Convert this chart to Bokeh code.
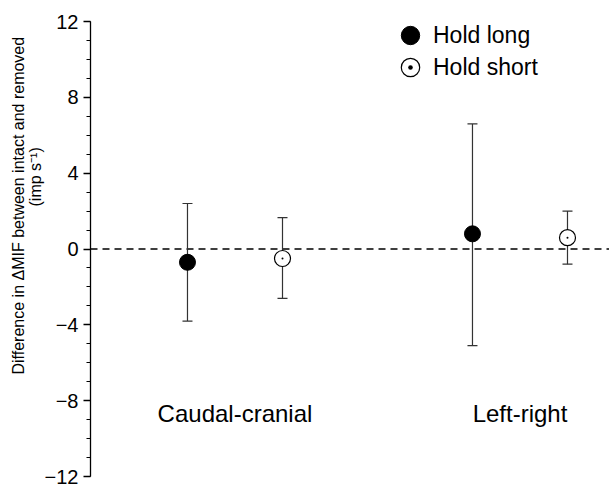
from bokeh.plotting import figure
from bokeh.models import (ColumnDataSource, Whisker, TeeHead, Span, Legend,
                          LegendItem, FixedTicker, Range1d, Title)
from bokeh.core.properties import value
from bokeh.embed import file_html
from bokeh.resources import INLINE

# ---- data ----
categories = ["Caudal-cranial", "Left-right"]
category_pos = [1, 2]
hold_long_mean = [-0.7, 0.8]
hold_long_upper = [2.4, 6.6]
hold_long_lower = [-3.8, -5.1]
hold_short_mean = [-0.5, 0.6]
hold_short_upper = [1.65, 2.0]
hold_short_lower = [-2.6, -0.8]
y_ticks = [-12, -8, -4, 0, 4, 8, 12]
y_minor = list(range(-12, 13))
category_label_y = -8.7

FONT = "Liberation Sans"
OFFSET = 0.1667

long_src = ColumnDataSource(dict(
    x=[c - OFFSET for c in category_pos], y=hold_long_mean,
    upper=hold_long_upper, lower=hold_long_lower))
short_src = ColumnDataSource(dict(
    x=[c + OFFSET for c in category_pos], y=hold_short_mean,
    upper=hold_short_upper, lower=hold_short_lower))
cat_src = ColumnDataSource(dict(x=category_pos, y=[category_label_y] * len(categories),
                                text=categories))

p = figure(width=609, height=485, output_backend="svg", toolbar_location=None,
           x_range=Range1d(0.4930, 2.3141), y_range=Range1d(-12, 12),
           x_axis_location=None,
           min_border_left=90, min_border_right=0, min_border_top=21, min_border_bottom=9)
p.outline_line_color = None
p.grid.visible = False
p.background_fill_color = "white"

ax = p.yaxis[0]
ax.ticker = FixedTicker(ticks=y_ticks, minor_ticks=y_minor)
ax.major_label_overrides = {t: ("\u2212" + str(-t) if t < 0 else str(t)) for t in y_ticks}
ax.major_tick_out = 7
ax.major_tick_in = 0
ax.minor_tick_out = 4
ax.minor_tick_in = 0
ax.axis_line_width = 1.3
ax.major_tick_line_width = 1.3
ax.minor_tick_line_width = 1.1
ax.axis_line_color = "black"
ax.major_tick_line_color = "black"
ax.minor_tick_line_color = "black"
ax.major_label_text_font = FONT
ax.major_label_text_font_size = "20px"
ax.major_label_text_color = "black"
ax.major_label_standoff = 5

# zero line
p.add_layout(Span(location=0, dimension="width", line_color="black",
                  line_width=1.5, line_dash="7 5", level="underlay"))

# error bars
for src in (long_src, short_src):
    col = "#333333"
    w = Whisker(base="x", upper="upper", lower="lower", source=src,
                line_color=col, line_width=1.2, level="underlay",
                upper_head=TeeHead(size=10, line_color=col, line_width=1.2),
                lower_head=TeeHead(size=10, line_color=col, line_width=1.2))
    p.add_layout(w)

r_long = p.scatter("x", "y", source=long_src, marker="circle", size=16,
                   fill_color="black", line_color="black")
r_short = p.scatter("x", "y", source=short_src, marker="circle", size=16,
                    fill_color="white", line_color="black", line_width=1.2)
r_short_dot = p.scatter("x", "y", source=short_src, marker="dot", size=8,
                        line_color="black", fill_color="black")

# category labels
p.text("x", "y", text="text", source=cat_src, text_font=value(FONT),
       text_font_size="24px", text_align="center", text_baseline="alphabetic",
       text_color="black")

# legends
for rs, lab, yy in (([r_long], "Hold long", 418), ([r_short, r_short_dot], "Hold short", 386)):
    lg = Legend(items=[LegendItem(label=lab, renderers=rs)], location=(297, yy),
                glyph_width=46, glyph_height=46, padding=0, margin=0, label_standoff=0,
                border_line_color=None, background_fill_alpha=0,
                label_text_font=FONT, label_text_font_size="23px",
                label_text_color="black", label_height=24)
    p.add_layout(lg, "center")

# y axis title (two lines)
p.add_layout(Title(text="(imp s\u207b\u00b9)", align="left", offset=270, standoff=-5,
                   text_font=FONT, text_font_size="16px", text_font_style="normal",
                   text_color="black"), "left")
p.add_layout(Title(text="Difference in \u0394MIF between intact and removed", align="left",
                   offset=102, standoff=2, text_font=FONT, text_font_size="16px",
                   text_font_style="normal", text_color="black"), "left")

open("out.html", "w").write(file_html(p, INLINE))
